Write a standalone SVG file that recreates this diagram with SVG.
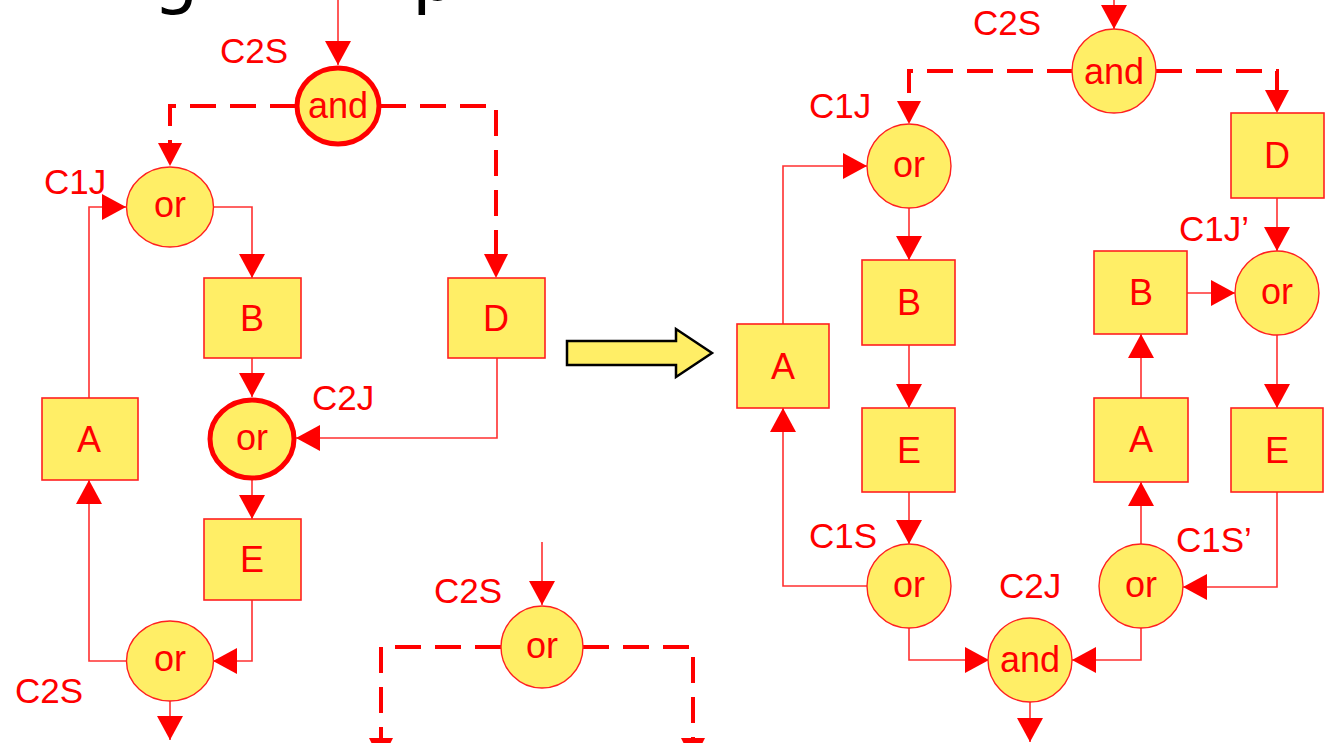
<svg xmlns="http://www.w3.org/2000/svg" width="1329" height="743" viewBox="0 0 1329 743">
<style>
.bg{fill:#ffffff}
.box{fill:#FFEE66;stroke:#FF2020;stroke-width:1.6}
.gate{fill:#FFEE66;stroke:#FF2020;stroke-width:1.4}
.gate2{fill:#FFEE66;stroke:#FF0000;stroke-width:5}
.nt{font-family:"Liberation Sans",Arial,sans-serif;font-size:36px;fill:#FF0000;text-anchor:middle}
.lb{font-family:"Liberation Sans",Arial,sans-serif;font-size:35px;fill:#FF0000}
.ln{fill:none;stroke:#FF3030;stroke-width:1.6}
.dl{fill:none;stroke:#FF0000;stroke-width:4;stroke-dasharray:26 14}
.ah{fill:#FF0000}
.title{font-family:"DejaVu Sans",sans-serif;font-size:72px;fill:#000000}
</style>
<defs>
<marker id="arr" viewBox="0 0 24 26" refX="24" refY="13" markerWidth="24" markerHeight="26" markerUnits="userSpaceOnUse" orient="auto">
<path d="M0,0 L24,13 L0,26 Z" class="ah"/>
</marker>
</defs>
<rect class="bg" x="0" y="0" width="1329" height="743"/>

<!-- cut-off title fragments -->
<text class="title" x="153" y="0">g</text>
<text class="title" x="412" y="0">p</text>

<g id="connectors">
  <!-- left diagram -->
  <path class="ln" d="M338,-5 L338,65" marker-end="url(#arr)"/>
  <path class="dl" d="M296,106 L170,106 L170,143"/>
  <path class="ah" d="M158,143 L182,143 L170,166 Z"/>
  <path class="dl" d="M380,106 L496,106 L496,254"/>
  <path class="ah" d="M484,254 L508,254 L496,278 Z"/>
  <path class="ln" d="M213,207 L252,207 L252,278" marker-end="url(#arr)"/>
  <path class="ln" d="M252,358 L252,397" marker-end="url(#arr)"/>
  <path class="ln" d="M497,358 L497,438 L296,438" marker-end="url(#arr)"/>
  <path class="ln" d="M252,480 L252,519" marker-end="url(#arr)"/>
  <path class="ln" d="M252,600 L252,661 L213,661" marker-end="url(#arr)"/>
  <path class="ln" d="M126,661 L89,661 L89,480" marker-end="url(#arr)"/>
  <path class="ln" d="M89,398 L89,207 L126,207" marker-end="url(#arr)"/>
  <path class="ln" d="M170,701 L170,740" marker-end="url(#arr)"/>
  <!-- bottom middle fragment -->
  <path class="ln" d="M542,542 L542,605" marker-end="url(#arr)"/>
  <path class="dl" d="M501,647 L381,647 L381,738"/>
  <path class="ah" d="M369,738 L393,738 L381,762 Z"/>
  <path class="dl" d="M583,647 L693,647 L693,738"/>
  <path class="ah" d="M681,738 L705,738 L693,762 Z"/>
  <!-- right diagram -->
  <path class="ln" d="M1114,-10 L1114,29" marker-end="url(#arr)"/>
  <path class="dl" d="M1073,71 L909,71 L909,102"/>
  <path class="ah" d="M897,101 L921,101 L909,124 Z"/>
  <path class="dl" d="M1156,71 L1277,71 L1277,90"/>
  <path class="ah" d="M1265,90 L1289,90 L1277,113 Z"/>
  <path class="ln" d="M909,208 L909,260" marker-end="url(#arr)"/>
  <path class="ln" d="M909,345 L909,408" marker-end="url(#arr)"/>
  <path class="ln" d="M909,492 L909,544" marker-end="url(#arr)"/>
  <path class="ln" d="M867,586 L783,586 L783,408" marker-end="url(#arr)"/>
  <path class="ln" d="M783,324 L783,166 L867,166" marker-end="url(#arr)"/>
  <path class="ln" d="M909,628 L909,660 L989,660" marker-end="url(#arr)"/>
  <path class="ln" d="M1141,628 L1141,660 L1072,660" marker-end="url(#arr)"/>
  <path class="ln" d="M1030,702 L1030,742" marker-end="url(#arr)"/>
  <path class="ln" d="M1277,198 L1277,251" marker-end="url(#arr)"/>
  <path class="ln" d="M1187,293 L1235,293" marker-end="url(#arr)"/>
  <path class="ln" d="M1277,335 L1277,408" marker-end="url(#arr)"/>
  <path class="ln" d="M1277,492 L1277,587 L1183,587" marker-end="url(#arr)"/>
  <path class="ln" d="M1141,544 L1141,482" marker-end="url(#arr)"/>
  <path class="ln" d="M1141,398 L1141,334" marker-end="url(#arr)"/>
</g>

<!-- block arrow -->
<g id="transform-arrow">
  <polygon points="567,341 676,341 676,329 712,353 676,377 676,365 567,365" fill="#FFEE66" stroke="#000000" stroke-width="2.5" stroke-linejoin="miter"/>
</g>

<!-- left diagram nodes -->
<g id="L-and-C2S">
  <ellipse class="gate2" cx="338" cy="106" rx="41" ry="38"/>
  <text class="nt" x="338" y="118">and</text>
  <text class="lb" x="220" y="63">C2S</text>
</g>
<g id="L-or-C1J">
  <ellipse class="gate" cx="170" cy="207" rx="43.5" ry="40"/>
  <text class="nt" x="170" y="217">or</text>
  <text class="lb" x="44" y="194">C1J</text>
</g>
<g id="L-B">
  <rect class="box" x="204" y="278" width="97" height="80"/>
  <text class="nt" x="252" y="331">B</text>
</g>
<g id="L-D">
  <rect class="box" x="448" y="278" width="97" height="80"/>
  <text class="nt" x="496" y="331">D</text>
</g>
<g id="L-or-C2J">
  <ellipse class="gate2" cx="252" cy="439" rx="42" ry="39"/>
  <text class="nt" x="252" y="450">or</text>
  <text class="lb" x="312" y="410">C2J</text>
</g>
<g id="L-A">
  <rect class="box" x="42" y="398" width="96" height="82"/>
  <text class="nt" x="89" y="452">A</text>
</g>
<g id="L-E">
  <rect class="box" x="204" y="519" width="97" height="81"/>
  <text class="nt" x="252" y="572">E</text>
</g>
<g id="L-or-C2S">
  <ellipse class="gate" cx="170" cy="661" rx="43.5" ry="40"/>
  <text class="nt" x="170" y="671">or</text>
  <text class="lb" x="15" y="703">C2S</text>
</g>

<!-- bottom middle fragment -->
<g id="M-or-C2S">
  <circle class="gate" cx="542" cy="647" r="41"/>
  <text class="nt" x="542" y="658">or</text>
  <text class="lb" x="434" y="603">C2S</text>
</g>

<!-- right diagram nodes -->
<g id="R-and-C2S">
  <circle class="gate" cx="1114" cy="71" r="42"/>
  <text class="nt" x="1114" y="84">and</text>
  <text class="lb" x="973" y="35">C2S</text>
</g>
<g id="R-or-C1J">
  <circle class="gate" cx="909" cy="166" r="42"/>
  <text class="nt" x="909" y="177">or</text>
  <text class="lb" x="809" y="118">C1J</text>
</g>
<g id="R-A1">
  <rect class="box" x="737" y="324" width="92" height="84"/>
  <text class="nt" x="783" y="379">A</text>
</g>
<g id="R-B1">
  <rect class="box" x="862" y="260" width="93" height="85"/>
  <text class="nt" x="909" y="315">B</text>
</g>
<g id="R-E1">
  <rect class="box" x="862" y="408" width="93" height="84"/>
  <text class="nt" x="909" y="463">E</text>
</g>
<g id="R-or-C1S">
  <circle class="gate" cx="909" cy="586" r="42"/>
  <text class="nt" x="909" y="597">or</text>
  <text class="lb" x="809" y="548">C1S</text>
</g>
<g id="R-and-C2J">
  <circle class="gate" cx="1030" cy="660" r="42"/>
  <text class="nt" x="1030" y="672">and</text>
  <text class="lb" x="999" y="598">C2J</text>
</g>
<g id="R-D">
  <rect class="box" x="1231" y="113" width="93" height="85"/>
  <text class="nt" x="1277" y="168">D</text>
</g>
<g id="R-or-C1Jp">
  <circle class="gate" cx="1277" cy="293" r="42"/>
  <text class="nt" x="1277" y="304">or</text>
  <text class="lb" x="1179" y="241">C1J’</text>
</g>
<g id="R-B2">
  <rect class="box" x="1094" y="251" width="93" height="83"/>
  <text class="nt" x="1141" y="305">B</text>
</g>
<g id="R-A2">
  <rect class="box" x="1094" y="398" width="94" height="84"/>
  <text class="nt" x="1141" y="452">A</text>
</g>
<g id="R-E2">
  <rect class="box" x="1231" y="408" width="92" height="84"/>
  <text class="nt" x="1277" y="463">E</text>
</g>
<g id="R-or-C1Sp">
  <circle class="gate" cx="1141" cy="586" r="42"/>
  <text class="nt" x="1141" y="597">or</text>
  <text class="lb" x="1176" y="552">C1S’</text>
</g>
</svg>
